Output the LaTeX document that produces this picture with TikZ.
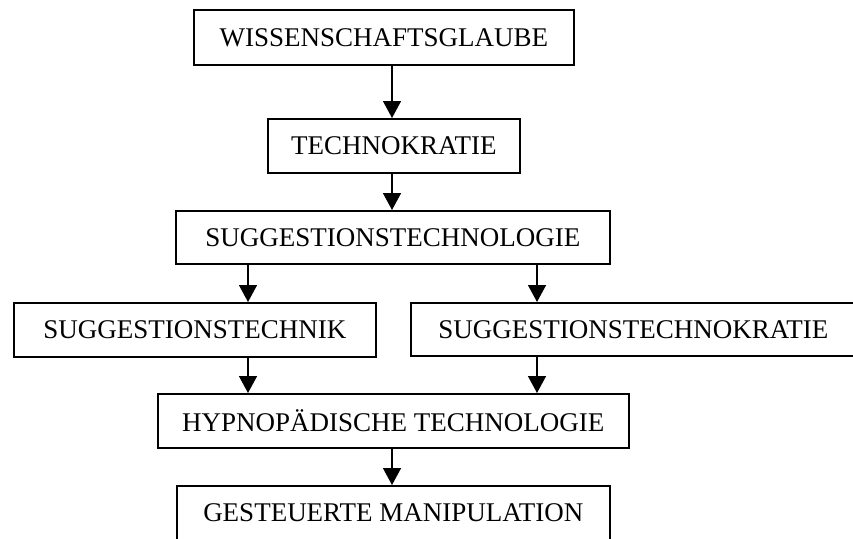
\documentclass[tikz,border=0pt]{standalone}
\usepackage{fontspec}
\setmainfont{Liberation Serif}
\usetikzlibrary{arrows.meta}
\begin{document}
\begin{tikzpicture}[x=1pt,y=-1pt,
  box/.style={draw,line width=1.6pt,rectangle,inner sep=0pt,anchor=north west,font=\fontsize{27}{30}\selectfont},
  arr/.style={line width=1.5pt,-{Triangle[length=17pt,width=18pt]}}]
\useasboundingbox (0,0) rectangle (853,538);
\node[box,minimum width=380pt,minimum height=55pt] (A) at (193,9) {WISSENSCHAFTSGLAUBE\hspace{8pt}};
\node[box,minimum width=252pt,minimum height=54pt] (B) at (267,118) {TECHNOKRATIE};
\node[box,minimum width=434pt,minimum height=53pt] (C) at (175,210) {SUGGESTIONSTECHNOLOGIE\hspace{10pt}};
\node[box,minimum width=362pt,minimum height=54pt] (D) at (13,302) {SUGGESTIONSTECHNIK\hspace{12pt}};
\node[box,minimum width=445pt,minimum height=53pt] (E) at (410,302) {SUGGESTIONSTECHNOKRATIE\hspace{6pt}};
\node[box,minimum width=471pt,minimum height=54pt] (F) at (157,393) {HYPNOPÄDISCHE TECHNOLOGIE};
\node[box,minimum width=433pt,minimum height=54pt] (G) at (176,485) {GESTEUERTE MANIPULATION\hspace{6pt}};
\coordinate (m) at (392,0);
\coordinate (l) at (248,0);
\coordinate (r) at (537,0);
\draw[arr] (A.south -| m) -- (B.north -| m);
\draw[arr] (B.south -| m) -- (C.north -| m);
\draw[arr] (C.south -| l) -- (D.north -| l);
\draw[arr] (C.south -| r) -- (E.north -| r);
\draw[arr] (D.south -| l) -- (F.north -| l);
\draw[arr] (E.south -| r) -- (F.north -| r);
\draw[arr] (F.south -| m) -- (G.north -| m);
\end{tikzpicture}
\end{document}
